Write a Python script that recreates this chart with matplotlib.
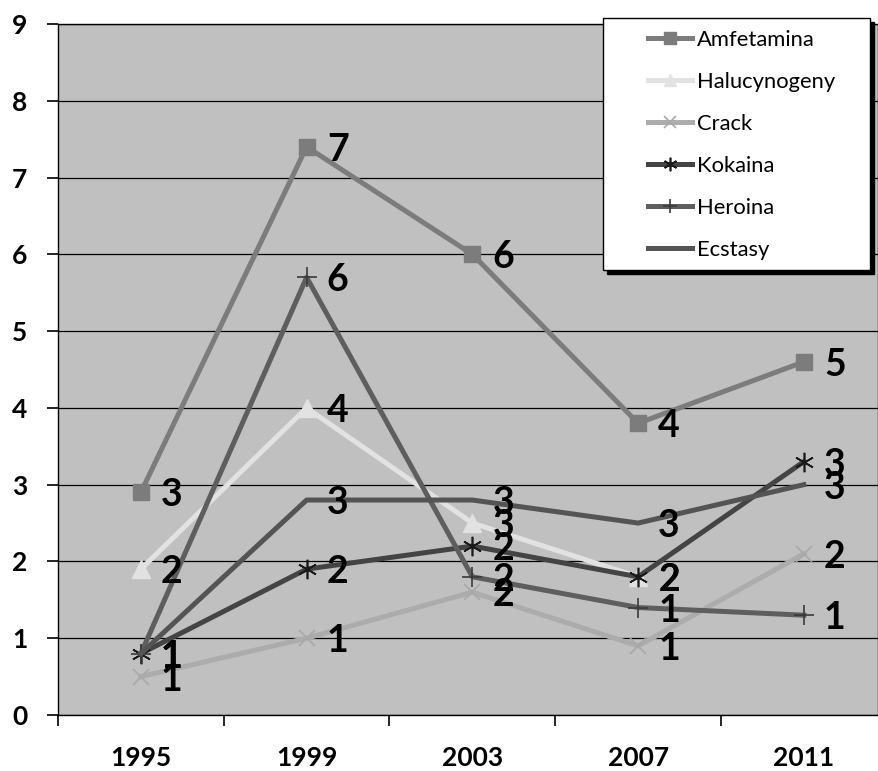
import numpy as np
import matplotlib.pyplot as plt
from matplotlib.patches import Rectangle
from matplotlib.ticker import FixedLocator

# survey years and series values
years = ['1995', '1999', '2003', '2007', '2011']
amfetamina = [2.9, 7.4, 6.0, 3.8, 4.6]
halucynogeny = [1.9, 4.0, 2.5, 1.8, np.nan]
crack = [0.5, 1.0, 1.6, 0.9, 2.1]
kokaina = [0.8, 1.9, 2.2, 1.8, 3.3]
heroina = [0.8, 5.7, 1.8, 1.4, 1.3]
ecstasy = [0.8, 2.8, 2.8, 2.5, 3.0]

series = [
    ('Amfetamina', amfetamina, '#7c7c7c', dict(marker='s', ms=12, mfc='#7c7c7c', mec='#7c7c7c')),
    ('Halucynogeny', halucynogeny, '#e2e2e2', dict(marker='^', ms=13, mfc='#e2e2e2', mec='#e2e2e2')),
    ('Crack', crack, '#acacac', dict(marker='x', ms=12, mec='#a8a8a8', mew=1.2)),
    ('Kokaina', kokaina, '#444444', dict(marker=(6, 2, 0), ms=14, mec='#1a1a1a', mew=1.2)),
    ('Heroina', heroina, '#5e5e5e', dict(marker='+', ms=14, mec='#3a3a3a', mew=1.2)),
    ('Ecstasy', ecstasy, '#545454', dict(marker=None)),
]
font = ['Lato', 'DejaVu Sans']

fig = plt.figure(figsize=(8.79, 7.71), dpi=100)
ax = fig.add_axes([58 / 879, 56 / 771, 820 / 879, 691 / 771])
ax.set_facecolor('#c0c0c0')

x = np.arange(len(years))
for name, vals, color, mk in series:
    ax.plot(x, vals, color=color, lw=3.6, label=name, zorder=3, **mk)
    for xi, v in zip(x, vals):
        if np.isnan(v):
            continue
        ax.annotate(str(int(np.floor(v + 0.5))), (xi, v), xytext=(14.5, 0),
                    textcoords='offset points', ha='left', va='center_baseline',
                    fontsize=27, fontweight='bold', family=font,
                    color='black', zorder=6)

ax.set_ylim(0, 9)
ax.set_xlim(-0.5, -0.5 + 820 / 165.75)
ax.set_yticks(range(10))
ax.yaxis.grid(True, color='black', lw=0.9, zorder=1)
ax.set_axisbelow(True)

# boundary ticks between categories, labels at category centres
ax.xaxis.set_major_locator(FixedLocator(np.arange(-0.5, 4.0, 1.0)))
ax.xaxis.set_minor_locator(FixedLocator(x))
ax.set_xticklabels([], minor=False)
ax.set_xticklabels(years, minor=True, fontsize=19, fontweight='bold', family=font)
ax.tick_params(axis='x', which='major', length=8, width=1.2, direction='out')
ax.tick_params(axis='x', which='minor', length=0, pad=22)
ax.tick_params(axis='y', length=8, width=1.2, direction='out', pad=14)
for lbl in ax.get_yticklabels():
    lbl.set_fontsize(19)
    lbl.set_fontweight('bold')
    lbl.set_family(font)

for side in ['left', 'bottom', 'right', 'top']:
    ax.spines[side].set_color('black')
    ax.spines[side].set_linewidth(1.0)

# legend box with dark drop shadow
bx0, by0, bw, bh = 0.6646, 0.644, 0.3256, 0.3647
shadow = Rectangle((bx0 + 4 / 820, by0 - 4 / 691), bw, bh, transform=ax.transAxes,
                   fc='black', ec='black', clip_on=False, zorder=7)
box = Rectangle((bx0, by0), bw, bh, transform=ax.transAxes,
                fc='white', ec='black', lw=1.0, clip_on=False, zorder=8)
ax.add_patch(shadow)
ax.add_patch(box)

leg = ax.legend(loc='upper left', bbox_to_anchor=((648 - 58) / 820, (715 - 30) / 691),
                frameon=False, borderpad=0, borderaxespad=0, handlelength=2.0,
                handletextpad=0.22, labelspacing=1.0, markerscale=0.7,
                prop={'family': font, 'size': 15.8})
leg.set_zorder(9)

fig.savefig('out.png', dpi=100)
